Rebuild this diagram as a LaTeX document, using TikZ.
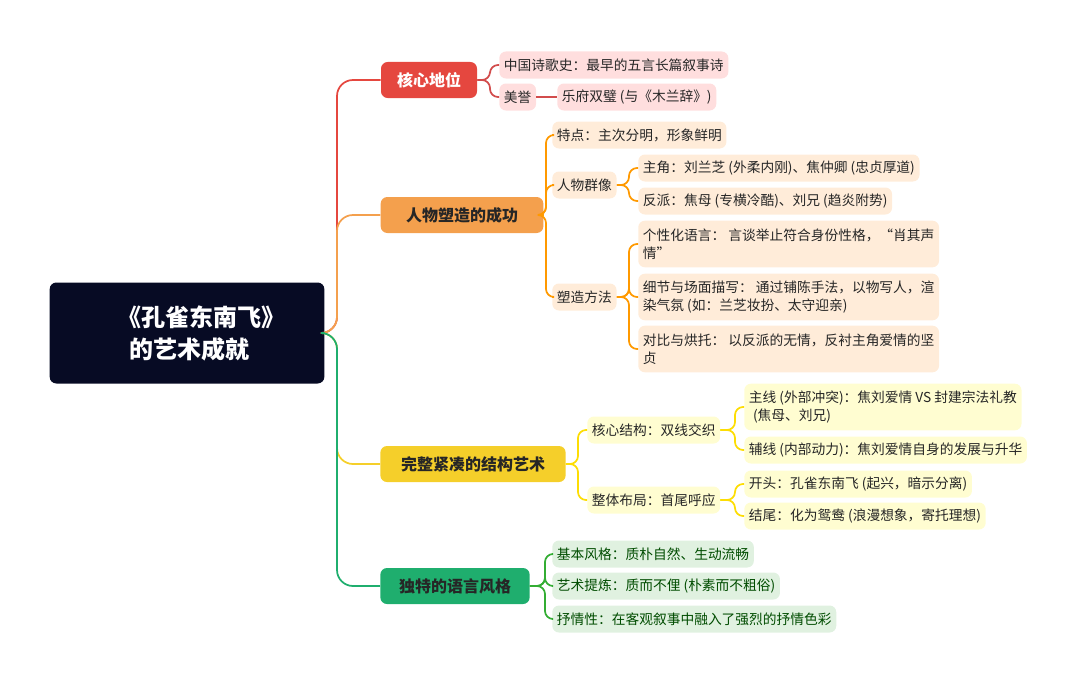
\documentclass[tikz,border=0pt]{standalone}
\usepackage{fontspec}
\setmainfont{Noto Sans CJK SC}
\begin{document}
\begin{tikzpicture}[x=0.75pt,y=-0.75pt,
 n/.style={anchor=west,rounded corners=5pt,inner xsep=3.5pt,inner ysep=0pt,minimum height=20.25pt,font=\fontsize{10.3}{13.5}\selectfont,text=black!85,align=left},
 rc/.style={n,fill=red!13!white},
 oc/.style={n,fill=orange!15!white},
 yc/.style={n,fill=yellow!18!white},
 gc/.style={n,fill=green!55!black!12!white,text=green!30!black},
 two/.style={minimum height=35pt},
 l1/.style={rounded corners=5pt,minimum height=27pt,inner sep=0pt,font=\fontsize{12}{14}\selectfont\bfseries},
 rl/.style={draw=red!75!black!70!white,line width=1.3pt,rounded corners=6pt},
 ol/.style={draw=orange!80!yellow,line width=1.3pt,rounded corners=6pt},
 yl/.style={draw=yellow!80!orange,line width=1.3pt,rounded corners=6pt},
 gl/.style={draw=green!60!black!80!white,line width=1.3pt,rounded corners=6pt},
]
\definecolor{rootc}{HTML}{070B24}
\definecolor{redc}{HTML}{E5473F}
\definecolor{orac}{HTML}{F4A04D}
\definecolor{yelc}{HTML}{F5CF2A}
\definecolor{grnc}{HTML}{1FAE6E}
\useasboundingbox (0,0) rectangle (1080,685);
\node[fill=rootc,rounded corners=5pt,minimum width=206pt,minimum height=75.75pt,text=white,font=\fontsize{18}{24}\selectfont\bfseries,align=left] (root) at (187,333) {\hspace*{1.2em}《孔雀东南飞》\\\hspace*{1.7em}的艺术成就};
% L1
\node[l1,fill=redc,text=white,minimum width=72pt] (a) at (429,80) {核心地位};
\node[l1,fill=orac,text=black!85,minimum width=122pt] (b) at (462,215) {人物塑造的成功};
\node[l1,fill=yelc,text=black!85,minimum width=139pt] (c) at (473,464) {完整紧凑的结构艺术};
\node[l1,fill=grnc,text=black!85,minimum width=112pt] (d) at (455,586) {独特的语言风格};
\foreach \t/\c in {a/redc,b/orac,c/yelc,d/grnc}
  \draw[\c,line width=1.3pt,rounded corners=12pt] (root.east) -- (337,333) |- (\t.west);
% red
\node[rc] (a1) at (499,65) {中国诗歌史：最早的五言长篇叙事诗};
\node[rc] (a2) at (499,97) {美誉};
\node[rc] (a3) at (557,97) {乐府双璧 (与《木兰辞》)};
\draw[rl] (a.east) -- (490,80) |- (a1.west);
\draw[rl] (a.east) -- (490,80) |- (a2.west);
\draw[rl] (a2.east) -- (a3.west);
% orange
\node[oc] (b1) at (552,135) {特点：主次分明，形象鲜明};
\node[oc] (b2) at (552,185) {人物群像};
\node[oc] (b21) at (638,168) {主角：刘兰芝 (外柔内刚)、焦仲卿 (忠贞厚道)};
\node[oc] (b22) at (638,201) {反派：焦母 (专横冷酷)、刘兄 (趋炎附势)};
\node[oc] (b3) at (552,297) {塑造方法};
\node[oc,two] (b31) at (638,244) {个性化语言： 言谈举止符合身份性格，“肖其声\\情”\hspace*{5.5em}};
\node[oc,two] (b32) at (638,297) {细节与场面描写： 通过铺陈手法，以物写人，渲\\染气氛 (如：兰芝妆扮、太守迎亲)};
\node[oc,two] (b33) at (638,349) {对比与烘托： 以反派的无情，反衬主角爱情的坚\\贞};
\foreach \t in {b1,b2,b3} \draw[ol] (b.east) -- (546,215) |- (\t.west);
\foreach \t in {b21,b22} \draw[ol] (b2.east) -- (629,185) |- (\t.west);
\foreach \t in {b31,b32,b33} \draw[ol] (b3.east) -- (629,297) |- (\t.west);
% yellow
\node[yc] (c1) at (587,430) {核心结构：双线交织};
\node[yc,two] (c11) at (744,407) {主线 (外部冲突)：焦刘爱情 VS 封建宗法礼教\\\hspace*{0.3em}(焦母、刘兄)};
\node[yc] (c12) at (744,450) {辅线 (内部动力)：焦刘爱情自身的发展与升华};
\node[yc] (c2) at (587,500) {整体布局：首尾呼应};
\node[yc] (c21) at (744,484) {开头：孔雀东南飞 (起兴，暗示分离)};
\node[yc] (c22) at (744,516) {结尾：化为鸳鸯 (浪漫想象，寄托理想)};
\foreach \t in {c1,c2} \draw[yl] (c.east) -- (578,464) |- (\t.west);
\foreach \t in {c11,c12} \draw[yl] (c1.east) -- (735,430) |- (\t.west);
\foreach \t in {c21,c22} \draw[yl] (c2.east) -- (735,500) |- (\t.west);
% green
\node[gc] (d1) at (552,554) {基本风格：质朴自然、生动流畅};
\node[gc] (d2) at (552,586) {艺术提炼：质而不俚 (朴素而不粗俗)};
\node[gc] (d3) at (552,619) {抒情性：在客观叙事中融入了强烈的抒情色彩};
\foreach \t in {d1,d2,d3} \draw[gl] (d.east) -- (545,586) |- (\t.west);
\end{tikzpicture}
\end{document}
